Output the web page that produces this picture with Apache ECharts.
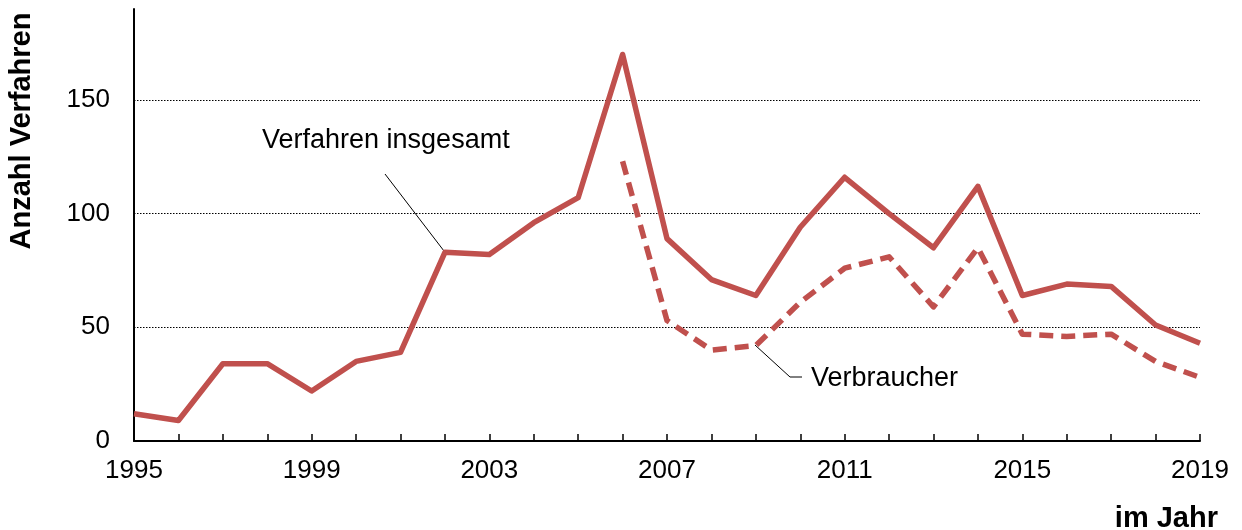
<!doctype html>
<html lang="de">
<head>
    <meta charset="utf-8">
    <title>Anzahl Verfahren</title>
    <script type="text/javascript" src="https://cdn.jsdelivr.net/npm/echarts@6/dist/echarts.min.js"></script>
    <style>
        html, body { margin: 0; padding: 0; background: #ffffff; }
        #main { width: 1242px; height: 530px; }
    </style>
</head>
<body>
<div id="main"></div>
<script type="text/javascript">
    // Daten
    var years = [1995, 1996, 1997, 1998, 1999, 2000, 2001, 2002, 2003, 2004, 2005, 2006,
        2007, 2008, 2009, 2010, 2011, 2012, 2013, 2014, 2015, 2016, 2017, 2018, 2019];
    var verfahrenInsgesamt = [12, 9, 34, 34, 22, 35, 39, 83, 82, 96, 107, 170,
        89, 71, 64, 94, 116, 100, 85, 112, 64, 69, 68, 51, 43];
    var verbraucher = [null, null, null, null, null, null, null, null, null, null, null, 123,
        53, 40, 42, 61, 76, 81, 59, 85, 47, 46, 47, 35, 28];
    var gridValues = [50, 100, 150];
    var labelYears = [1995, 1999, 2003, 2007, 2011, 2015, 2019];

    var red = '#C0504D';
    var font = 'Liberation Sans, Arial, sans-serif';

    function pairs(vals) {
        var out = [];
        for (var i = 0; i < years.length; i++) {
            if (vals[i] != null) out.push([years[i], vals[i]]);
        }
        return out;
    }

    var chartDom = document.getElementById('main');
    var myChart = echarts.init(chartDom);
    var option = {
        animation: false,
        textStyle: { fontFamily: font },
        grid: { left: 134, right: 42, top: 9, bottom: 89, containLabel: false },
        xAxis: {
            type: 'value',
            min: 1995,
            max: 2019,
            interval: 1,
            axisLine: { show: true, onZero: false, lineStyle: { color: '#000', width: 2 } },
            axisTick: { show: true, inside: true, length: 7, lineStyle: { color: '#000', width: 1.5 } },
            axisLabel: {
                color: '#000', fontSize: 26, fontFamily: font, margin: 17,
                showMinLabel: true, showMaxLabel: true,
                formatter: function (v) { return labelYears.indexOf(v) >= 0 ? String(v) : ''; }
            },
            splitLine: { show: false }
        },
        yAxis: {
            type: 'value',
            min: 0,
            max: 190,
            interval: 50,
            axisLine: { show: true, lineStyle: { color: '#000', width: 2 } },
            axisTick: { show: false },
            axisLabel: { color: '#000', fontSize: 26, fontFamily: font, margin: 24, showMaxLabel: false },
            splitLine: { show: false }
        },
        series: [
            {
                name: 'Verfahren insgesamt',
                type: 'line',
                data: pairs(verfahrenInsgesamt),
                showSymbol: false,
                symbol: 'none',
                lineStyle: { color: red, width: 5.5, join: 'round' },
                z: 3,
                markLine: {
                    silent: true,
                    symbol: 'none',
                    label: { show: false },
                    lineStyle: { color: '#000', width: 1, type: [1.5, 1.5] },
                    data: gridValues.map(function (v) { return { yAxis: v }; }),
                    z: 1
                }
            },
            {
                name: 'Verbraucher',
                type: 'line',
                data: pairs(verbraucher),
                showSymbol: false,
                symbol: 'none',
                lineStyle: { color: red, width: 5.5, type: [14, 8], join: 'round' },
                z: 3
            }
        ],
        graphic: [
            {
                type: 'text', x: 22, y: 131, rotation: Math.PI / 2,
                style: { text: 'Anzahl Verfahren', fontSize: 29, fontWeight: 'bold', fontFamily: font,
                    fill: '#000', align: 'center', verticalAlign: 'middle' }
            },
            {
                type: 'text', x: 1218, y: 519,
                style: { text: 'im Jahr', fontSize: 29, fontWeight: 'bold', fontFamily: font,
                    fill: '#000', align: 'right', verticalAlign: 'middle' }
            },
            {
                type: 'text', x: 262, y: 141,
                style: { text: 'Verfahren insgesamt', fontSize: 27, fontFamily: font,
                    fill: '#000', align: 'left', verticalAlign: 'middle' }
            },
            {
                type: 'polyline',
                shape: { points: [[385, 174], [444, 251]] },
                style: { stroke: '#000', lineWidth: 1, fill: null }
            },
            {
                type: 'text', x: 811, y: 379,
                style: { text: 'Verbraucher', fontSize: 27, fontFamily: font,
                    fill: '#000', align: 'left', verticalAlign: 'middle' }
            },
            {
                type: 'polyline',
                shape: { points: [[755, 345], [790, 377], [802, 377]] },
                style: { stroke: '#000', lineWidth: 1, fill: null }
            }
        ]
    };

    option && myChart.setOption(option);
</script>
</body>
</html>
